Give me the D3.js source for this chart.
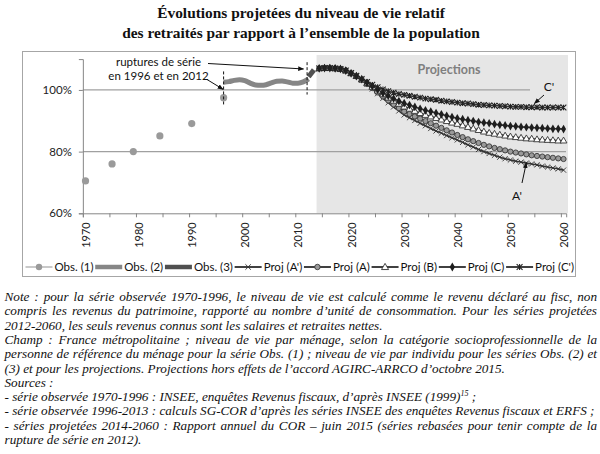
<!DOCTYPE html>
<html><head><meta charset="utf-8">
<script src="https://cdn.jsdelivr.net/npm/d3@7"></script>
<style>body{margin:0;background:#fff}svg{display:block}</style>
</head><body><svg id="c" width="600" height="454"></svg>
<script>
// ---------------- DATA ----------------
const titleLines = ["Évolutions projetées du niveau de vie relatif",
                    "des retraités par rapport à l’ensemble de la population"];
const yTickValues = [60, 80, 100];
const xLabelYears = [1970, 1980, 1990, 2000, 2010, 2020, 2030, 2040, 2050, 2060];
const xTickYears = [1970,1975,1980,1985,1990,1995,2000,2005,2010,2015,2020,2025,2030,2035,2040,2045,2050,2055,2060];

const obs1Years  = [1970, 1975, 1979, 1984, 1990, 1996];
const obs1Values = [70.5, 76.0, 80.0, 85.1, 89.1, 97.5];

const obs2Years  = [1996,1997,1998,1999,2000,2001,2002,2003,2004,2005,2006,2007,2008,2009,2010,2011,2012];
const obs2Values = [102.5,102.7,103.1,103.3,103.0,102.2,101.6,101.5,101.7,102.3,102.8,102.9,102.6,102.2,102.2,102.6,103.6];

const obs3Years  = [2012, 2013];
const obs3Values = [104.3, 106.5];

const projYears = d3.range(2014, 2061);
const projA2 = [107.0,107.1,107.1,107.0,106.8,106.3,105.4,104.4,103.2,
  101.8,100.3,98.8,97.3,95.9,94.5,93.2,91.9,91.0,90.1,89.2,88.4,87.5,86.7,86.0,85.2,84.5,83.8,
  83.0,82.2,81.5,80.7,80.0,79.4,78.8,78.2,77.7,77.3,76.9,76.6,76.3,76.0,75.7,75.3,75.0,74.7,74.4,74.0];
const projA = [107.0,107.1,107.1,107.0,106.8,106.3,105.4,104.4,103.3,
  102.0,100.6,99.2,97.9,96.6,95.3,94.1,93.0,92.2,91.4,90.7,89.9,89.2,88.4,87.7,86.9,86.2,85.4,
  84.7,84.0,83.4,82.8,82.2,81.7,81.2,80.8,80.4,80.0,79.7,79.4,79.1,78.8,78.6,78.4,78.2,78.0,77.8,77.6];
const projB = [107.0,107.1,107.1,107.0,106.8,106.3,105.4,104.5,103.4,
  102.2,101.0,99.8,98.6,97.5,96.5,95.5,94.6,93.9,93.2,92.5,91.9,91.4,90.9,90.4,89.9,89.4,89.0,
  88.5,88.0,87.5,87.0,86.5,86.1,85.8,85.5,85.2,84.9,84.7,84.5,84.3,84.2,84.0,83.9,83.8,83.7,83.6,83.6];
const projC = [107.0,107.1,107.1,107.0,106.8,106.3,105.4,104.5,103.5,
  102.3,101.2,100.1,99.0,98.1,97.2,96.4,95.7,95.1,94.5,93.9,93.4,93.0,92.5,92.1,91.6,91.2,90.8,
  90.5,90.2,89.9,89.6,89.4,89.2,88.9,88.7,88.5,88.3,88.2,88.0,87.9,87.8,87.7,87.6,87.5,87.4,87.4,87.3];
const projC2 = [107.0,107.1,107.1,107.0,106.8,106.3,105.5,104.6,103.6,
  102.6,101.7,100.9,100.2,99.6,99.1,98.7,98.4,98.1,97.8,97.5,97.2,97.0,96.8,96.5,96.3,96.1,95.9,
  95.7,95.6,95.4,95.2,95.1,95.0,94.9,94.8,94.7,94.6,94.5,94.5,94.4,94.4,94.4,94.3,94.3,94.3,94.3,94.3];

const projNames   = ["Proj (A')", "Proj (A)", "Proj (B)", "Proj (C)", "Proj (C')"];
const projMarkers = ["plus", "circle", "triangle", "diamond", "star"];
const legendNames = ["Obs. (1)", "Obs. (2)", "Obs. (3)"].concat(projNames);

const ruptureYears = [1996, 2012];
const projStartYear = 2013.5;

const noteLines = [
 "Note : pour la série observée 1970-1996, le niveau de vie est calculé comme le revenu déclaré au fisc, non",
 "compris les revenus du patrimoine, rapporté au nombre d’unité de consommation. Pour les séries projetées",
 "2012-2060, les seuls revenus connus sont les salaires et retraites nettes.",
 "Champ : France métropolitaine ; niveau de vie par ménage, selon la catégorie socioprofessionnelle de la",
 "personne de référence du ménage pour la série Obs. (1) ; niveau de vie par individu pour les séries Obs. (2) et",
 "(3) et pour les projections. Projections hors effets de l’accord AGIRC-ARRCO d’octobre 2015.",
 "Sources :",
 "- série observée 1970-1996 : INSEE, enquêtes Revenus fiscaux, d’après INSEE (1999)",
 "- série observée 1996-2013 : calculs SG-COR d’après les séries INSEE des enquêtes Revenus fiscaux et ERFS ;",
 "- séries projetées 2014-2060 : Rapport annuel du COR – juin 2015 (séries rebasées pour tenir compte de la",
 "rupture de série en 2012)."
];
const noteJustify = [true,true,false,true,true,false,false,false,false,true,false];

// ---------------- DRAW ----------------
const svg = d3.select("#c");
const sans = "Lato, 'Open Sans', sans-serif";
const serif = "'Liberation Serif', 'Times New Roman', serif";
const dark = "#333";

const x = d3.scaleLinear().domain([1969.5, 2060.5]).range([82.85, 566.2]);
const y = d3.scaleLinear().domain([60, 110]).range([213.3, 59.1]);

// title
svg.append("g").selectAll("text").data(titleLines).join("text")
  .attr("x", 301).attr("y", (d, i) => 18 + i * 20)
  .attr("text-anchor", "middle").attr("font-family", serif)
  .attr("font-weight", "bold").attr("font-size", 15.4).attr("fill", "#111")
  .text(d => d);

// chart border
svg.append("rect").attr("x", 22.5).attr("y", 51.5).attr("width", 553).attr("height", 225)
  .attr("fill", "#fff").attr("stroke", "#a6a6a6").attr("stroke-width", 1);

// projection shading
svg.append("rect").attr("x", x(projStartYear)).attr("y", 55)
  .attr("width", 568 - x(projStartYear)).attr("height", y(60) - 55)
  .attr("fill", "#e6e6e6");
svg.append("text").attr("x", 449).attr("y", 73.5).attr("text-anchor", "middle")
  .attr("font-family", sans).attr("font-weight", "bold").attr("font-size", 12.5)
  .attr("fill", "#7f7f7f").text("Projections");

// gridlines
svg.append("line").attr("x1", x.range()[0]).attr("x2", 566).attr("y1", y(80)).attr("y2", y(80))
  .attr("stroke", "#a0a0a0").attr("stroke-width", 1.3);
svg.append("line").attr("x1", x.range()[0]).attr("x2", 530).attr("y1", y(100)).attr("y2", y(100))
  .attr("stroke", "#a0a0a0").attr("stroke-width", 1.3);

// axes
const yAxis = svg.append("g").attr("transform", `translate(${x.range()[0]},0)`)
  .call(d3.axisLeft(y).tickValues(yTickValues).tickSize(4).tickPadding(7).tickFormat(d => d + "%"));
yAxis.select(".domain").attr("stroke", "#868686");
yAxis.selectAll(".tick line").attr("stroke", "#868686");
yAxis.selectAll("text").attr("font-family", sans).attr("font-size", 11.5).attr("fill", "#222");

const xAxisTicks = svg.append("g").attr("transform", `translate(0,${y(60)})`)
  .call(d3.axisBottom(x).tickValues(xTickYears.map(v => v - 0.5)).tickSize(4).tickFormat(""));
xAxisTicks.select(".domain").attr("stroke", "#868686");
xAxisTicks.selectAll(".tick line").attr("stroke", "#868686");

const xAxisLabels = svg.append("g").attr("transform", `translate(0,${y(60)})`)
  .call(d3.axisBottom(x).tickValues(xLabelYears).tickSize(0).tickFormat(d3.format("d")));
xAxisLabels.select(".domain").remove();
xAxisLabels.selectAll("text")
  .attr("font-family", sans).attr("font-size", 11).attr("fill", "#222")
  .attr("text-anchor", "end").attr("dy", null).attr("y", 0)
  .attr("transform", "translate(4,9) rotate(-90)");

// markers
function drawMarker(g, type, cx, cy, s) {
  s = s || 1;
  if (type === "circle") {
    g.append("circle").attr("cx", cx).attr("cy", cy).attr("r", 2.6 * s)
      .attr("fill", "#9a9a9a").attr("stroke", "#3a3a3a").attr("stroke-width", 0.9);
  } else if (type === "triangle") {
    g.append("path").attr("d", d3.symbol(d3.symbolTriangle, 20 * s * s)())
      .attr("transform", `translate(${cx},${cy + 0.5})`)
      .attr("fill", "#fff").attr("stroke", dark).attr("stroke-width", 0.9);
  } else if (type === "diamond") {
    g.append("path").attr("d", d3.symbol(d3.symbolDiamond, 22 * s * s)())
      .attr("transform", `translate(${cx},${cy})`).attr("fill", "#1e1e1e");
  } else if (type === "plus") {
    const r = 2.6 * s;
    g.append("path").attr("d", `M${cx - r},${cy - r}L${cx + r},${cy + r}M${cx - r},${cy + r}L${cx + r},${cy - r}`)
      .attr("stroke", dark).attr("stroke-width", 0.9);
  } else if (type === "star") {
    const r = 2.8 * s;
    g.append("path").attr("d", `M${cx - r},${cy - r}L${cx + r},${cy + r}M${cx - r},${cy + r}L${cx + r},${cy - r}M${cx},${cy - r}V${cy + r}`)
      .attr("stroke", "#222").attr("stroke-width", 1.1);
  }
}

const line = d3.line().x(d => x(d[0])).y(d => y(d[1]));

// Obs (2)
svg.append("path").datum(obs2Years.map((v, i) => [v, obs2Values[i]]))
  .attr("d", line.curve(d3.curveMonotoneX)).attr("fill", "none")
  .attr("stroke", "#868686").attr("stroke-width", 5).attr("stroke-linejoin", "round");
// Obs (3)
svg.append("path").datum(obs3Years.map((v, i) => [v, obs3Values[i]]))
  .attr("d", line.curve(d3.curveLinear)).attr("fill", "none")
  .attr("stroke", "#505050").attr("stroke-width", 5);

// projections
const projSeries = [projA2, projA, projB, projC, projC2];
const gProj = svg.append("g");
projSeries.forEach((vals, k) => {
  const pts = projYears.map((v, i) => [v, vals[i]]);
  gProj.append("path").datum(pts).attr("d", line.curve(d3.curveMonotoneX))
    .attr("fill", "none").attr("stroke", dark).attr("stroke-width", 1.6);
});
projSeries.forEach((vals, k) => {
  const g = gProj.append("g");
  projYears.forEach((v, i) => drawMarker(g, projMarkers[k], x(v), y(vals[i])));
});

// Obs (1) dots
svg.append("g").selectAll("circle").data(obs1Years).join("circle")
  .attr("cx", d => x(d)).attr("cy", (d, i) => y(obs1Values[i])).attr("r", 3.6)
  .attr("fill", "#9a9a9a");

// rupture dashed lines
svg.append("line").attr("x1", x(ruptureYears[0])).attr("x2", x(ruptureYears[0]))
  .attr("y1", y(106)).attr("y2", y(95.3)).attr("stroke", "#111").attr("stroke-dasharray", "3,2");
svg.append("line").attr("x1", x(ruptureYears[1]) - 1.5).attr("x2", x(ruptureYears[1]) - 1.5)
  .attr("y1", y(109)).attr("y2", y(98.5)).attr("stroke", "#111").attr("stroke-dasharray", "3,2");

// arrows
const defs = svg.append("defs");
defs.append("marker").attr("id", "ah").attr("viewBox", "0 0 10 10").attr("refX", 9).attr("refY", 5)
  .attr("markerWidth", 6).attr("markerHeight", 6).attr("orient", "auto")
  .append("path").attr("d", "M0,1L10,5L0,9Z").attr("fill", "#111");
function arrow(x1, y1, x2, y2) {
  svg.append("line").attr("x1", x1).attr("y1", y1).attr("x2", x2).attr("y2", y2)
    .attr("stroke", "#111").attr("stroke-width", 1).attr("marker-end", "url(#ah)");
}
arrow(208, 63.5, x(ruptureYears[1]) - 5, y(106.8));
arrow(207, 79.5, x(ruptureYears[0]) - 0.5, y(100.2));
arrow(544, 95, x(2054.5), y(95.6));
arrow(522, 183, x(2053), y(76.4));

const annot = svg.append("g").attr("font-family", sans).attr("font-size", 11.5).attr("fill", "#111")
  .attr("text-anchor", "middle");
annot.append("text").attr("x", 158.5).attr("y", 65.5).text("ruptures de série");
annot.append("text").attr("x", 158.5).attr("y", 80).text("en 1996 et en 2012");
annot.append("text").attr("x", 549).attr("y", 91).attr("font-size", 12).text("C'");
annot.append("text").attr("x", 517).attr("y", 200).attr("font-size", 12).text("A'");

// legend
const lg = svg.append("g").attr("font-family", sans).attr("font-size", 11.5).attr("fill", "#111");
const legY = 267;
const lineLen = 27;
const items = legendNames.map(n => {
  const t = lg.append("text").attr("y", legY + 4).text(n);
  return { t, w: t.node().getComputedTextLength() };
});
const startX = 25.5, endX = 574;
const used = d3.sum(items, d => d.w + lineLen + 2);
const gap = (endX - startX - used) / (items.length - 1);
let cx = startX;
items.forEach((it, i) => {
  const g = lg.append("g");
  if (i === 0) {
    g.append("line").attr("x1", cx).attr("x2", cx + lineLen).attr("y1", legY).attr("y2", legY)
      .attr("stroke", "#a6a6a6").attr("stroke-width", 1.2);
    g.append("circle").attr("cx", cx + lineLen / 2).attr("cy", legY).attr("r", 3.2).attr("fill", "#9a9a9a");
  } else if (i === 1 || i === 2) {
    g.append("line").attr("x1", cx).attr("x2", cx + lineLen).attr("y1", legY).attr("y2", legY)
      .attr("stroke", i === 1 ? "#868686" : "#505050").attr("stroke-width", 4.5);
  } else {
    g.append("line").attr("x1", cx).attr("x2", cx + lineLen).attr("y1", legY).attr("y2", legY)
      .attr("stroke", "#111").attr("stroke-width", 1.6);
    drawMarker(g, projMarkers[i - 3], cx + lineLen / 2, legY, 1.05);
  }
  it.t.attr("x", cx + lineLen + 2);
  cx += lineLen + 2 + it.w + gap;
});

// notes
const notes = svg.append("g").attr("font-family", serif).attr("font-style", "italic")
  .attr("font-size", 13.2).attr("fill", "#111");
const nx0 = 4.5, nx1 = 597;
noteLines.forEach((txt, i) => {
  const yb = 301 + i * 14.3;
  if (!noteJustify[i]) {
    const t = notes.append("text").attr("x", nx0).attr("y", yb).text(txt);
    if (i === 7) {
      t.append("tspan").attr("font-size", 8).attr("dy", -5).text("15");
      t.append("tspan").attr("dy", 5).text(" ;");
    }
    return;
  }
  const words = txt.split(" ");
  const nodes = words.map(w => notes.append("text").attr("y", yb).text(w));
  const widths = nodes.map(n => n.node().getComputedTextLength());
  const sp = (nx1 - nx0 - d3.sum(widths)) / (words.length - 1);
  let px = nx0;
  nodes.forEach((n, j) => { n.attr("x", px); px += widths[j] + sp; });
});
</script>
</body></html>
